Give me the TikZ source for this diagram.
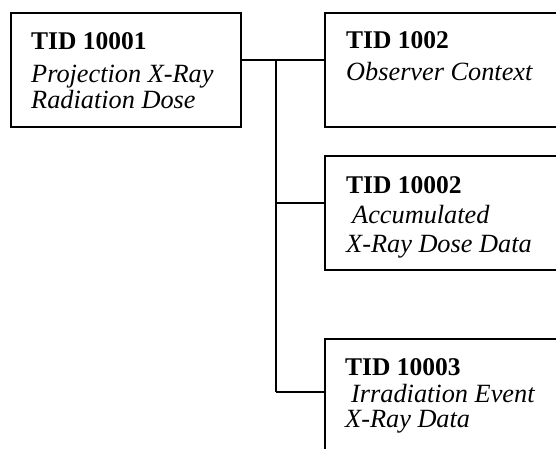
\documentclass[tikz,border=0pt]{standalone}
\usepackage{fontspec}
\setmainfont{Liberation Serif}
\begin{document}
\begin{tikzpicture}[x=1pt,y=-1pt,
  box/.style={draw=black,line width=1.6pt,inner sep=0pt},
  conn/.style={draw=black,line width=1.6pt},
  ttl/.style={anchor=base west,inner sep=0pt,font=\fontsize{25.5}{28}\selectfont\bfseries},
  sub/.style={anchor=base west,inner sep=0pt,font=\fontsize{26.3}{28}\selectfont\itshape}]
\useasboundingbox (0,0) rectangle (556,449);
\clip (0,0) rectangle (556,449);
% boxes
\node[box,minimum width=230pt,minimum height=114pt,anchor=north west] (b1) at (10,12) {};
\node[box,minimum width=250pt,minimum height=114pt,anchor=north west] (b2) at (324,12) {};
\node[box,minimum width=250pt,minimum height=114pt,anchor=north west] (b3) at (324,155) {};
\node[box,minimum width=250pt,minimum height=140pt,anchor=north west] (b4) at (324,338) {};
% texts
\node[ttl] (t1a) at (31,50) {TID 10001};
\node[sub] (t1b) at (31,83) {Projection X-Ray};
\node[sub] (t1c) at (31,109) {Radiation Dose};
\node[ttl] (t2a) at (346,49) {TID 1002};
\node[sub] (t2b) at (346,81) {Observer Context};
\node[ttl] (t3a) at (346,193) {TID 10002};
\node[sub] (t3b) at (352,223) {Accumulated};
\node[sub] (t3c) at (346,252) {X-Ray Dose Data};
\node[ttl] (t4a) at (345,375) {TID 10003};
\node[sub] (t4b) at (351,402) {Irradiation Event};
\node[sub] (t4c) at (345,427) {X-Ray Data};
% connectors
\coordinate (j1) at (276,60);
\coordinate (j2) at (276,203);
\coordinate (j3) at (276,392);
\draw[conn] (b1.east |- j1) -- (b2.west |- j1);
\draw[conn] (j1) -- (j3);
\draw[conn] (j2) -- (b3.west |- j2);
\draw[conn] (j3) -- (b4.west |- j3);
\end{tikzpicture}
\end{document}
